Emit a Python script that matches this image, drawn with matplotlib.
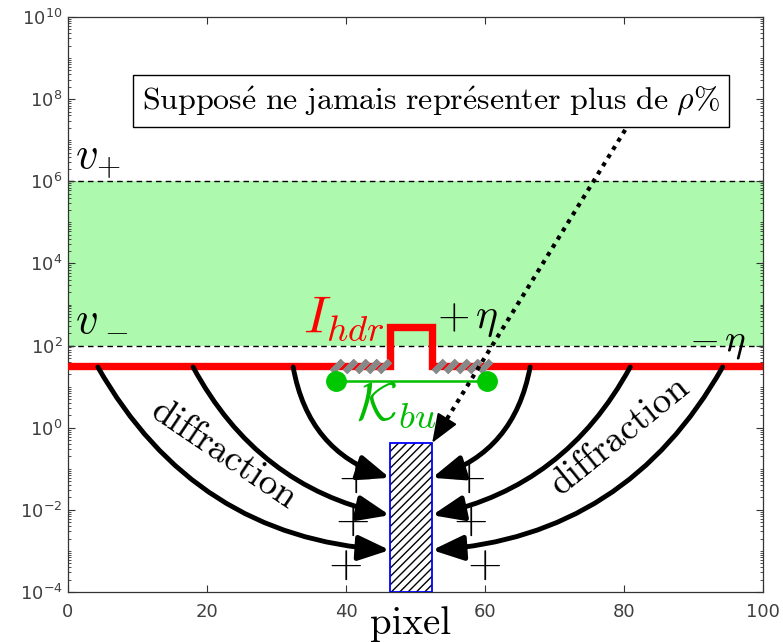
import numpy as np
import matplotlib
matplotlib.use("Agg")
import matplotlib.pyplot as plt
from matplotlib.patches import Rectangle, FancyArrowPatch
from matplotlib.ticker import FixedLocator, LogLocator, LogFormatterSciNotation, NullFormatter

plt.rcParams['font.family'] = ['DejaVu Sans']
plt.rcParams['mathtext.fontset'] = 'dejavusans'

# ---------------- data ----------------
x_ticks = [0, 20, 40, 60, 80, 100]
y_ticks = [1e-4, 1e-2, 1e0, 1e2, 1e4, 1e6, 1e8, 1e10]
band_low, band_high = 1e2, 1e6
signal_x = [0, 46.3, 46.3, 52.4, 52.4, 100]
signal_y = [32, 32, 290, 290, 32, 32]
hatch_x = [38.7, 40.6, 42.3, 43.9, 45.5, 53.4, 55.1, 56.8, 58.4, 60.0]
hatch_y = 32
kbu_x = [38.6, 60.3]
kbu_y = [14, 14]
pixel_x = [46.3, 52.4]
pixel_y = [1e-4, 0.43]
arrow_start_left = [4.3, 18.0, 32.4]
arrow_start_right = [94.2, 80.9, 66.5]
arrow_start_y = 30
arrow_end_y = [10**-2.98, 10**-2.13, 10**-1.22]
arrow_rad = [0.27, 0.23, 0.3]
plus_left_x = [41.3, 40.9, 39.9]
plus_right_x = [57.6, 57.9, 59.9]
plus_y = [10**-1.2, 10**-2.25, 10**-3.32]
pointer_start = (80.9, 10**7.45)
pointer_end = (52.4, 10**-0.37)
box_text = r"$\mathrm{Suppos\acute{e}\ ne\ jamais\ repr\acute{e}senter\ plus\ de\ }\rho\%$"

# ---------------- figure ----------------
fig = plt.figure(figsize=(7.83, 6.42), dpi=100)
ax = fig.add_axes([0.0868, 0.0779, 0.8876, 0.8956])
ax.set_xlim(0, 100)
ax.set_yscale('log')
ax.set_ylim(1e-4, 1e10)

ax.xaxis.set_major_locator(FixedLocator(x_ticks))
ax.yaxis.set_major_locator(FixedLocator(y_ticks))
ax.yaxis.set_major_formatter(LogFormatterSciNotation())
ax.yaxis.set_minor_locator(LogLocator(base=10, subs=np.arange(1, 10), numticks=100))
ax.yaxis.set_minor_formatter(NullFormatter())
ax.tick_params(which='both', direction='in', top=True, right=True,
               color='#333333', labelcolor='#404040', labelsize=13)
ax.tick_params(which='major', length=5, width=0.8)
ax.tick_params(which='minor', length=2.5, width=0.6)
ax.tick_params(axis='x', pad=8)
ax.tick_params(axis='y', pad=4)
for s in ax.spines.values():
    s.set_color('#333333')
    s.set_linewidth(0.9)

# band
ax.axhspan(band_low, band_high, color='#adf9ad', lw=0, zorder=0)
for lvl in (band_low, band_high):
    ax.axhline(lvl, color='k', ls=(0, (4, 3)), lw=1, zorder=1)

# red signal
ax.plot(signal_x, signal_y, color='#ff0000', lw=5.3, solid_joinstyle='miter', zorder=3)
# gray hatch
ax.plot(hatch_x, [hatch_y] * len(hatch_x), ls='none', marker=(2, 2, -45),
        ms=11, mew=4.5, color='#888888', zorder=4)
# K_bu
ax.plot(kbu_x, kbu_y, color='#00c000', lw=1.8, zorder=4)
ax.plot(kbu_x, kbu_y, 'o', ms=14, color='#00c800', zorder=5)

# pixel
ax.add_patch(Rectangle((pixel_x[0], pixel_y[0]), pixel_x[1] - pixel_x[0], pixel_y[1] - pixel_y[0],
                       fc='white', ec='black', lw=0, hatch='////', zorder=3))
ax.add_patch(Rectangle((pixel_x[0], pixel_y[0]), pixel_x[1] - pixel_x[0], pixel_y[1] - pixel_y[0],
                       fc='none', ec='blue', lw=1.3, zorder=3.5))

# diffraction arrows
astyle = '-|>,head_length=0.95,head_width=0.38'
for sx, ey, r in zip(arrow_start_left, arrow_end_y, arrow_rad):
    ax.add_patch(FancyArrowPatch((sx, arrow_start_y), (pixel_x[0], ey), arrowstyle=astyle,
                                 connectionstyle=f'arc3,rad={r}', mutation_scale=20,
                                 lw=3.5, color='k', shrinkA=0, shrinkB=0, zorder=6))
for sx, ey, r in zip(arrow_start_right, arrow_end_y, arrow_rad):
    ax.add_patch(FancyArrowPatch((sx, arrow_start_y), (pixel_x[1], ey), arrowstyle=astyle,
                                 connectionstyle=f'arc3,rad={-r}', mutation_scale=20,
                                 lw=3.5, color='k', shrinkA=0, shrinkB=0, zorder=6))

# dotted pointer
t = 0.93
bx = pointer_start[0] + t * (pointer_end[0] - pointer_start[0])
by = 10 ** (np.log10(pointer_start[1]) + t * (np.log10(pointer_end[1]) - np.log10(pointer_start[1])))
ax.plot([pointer_start[0], bx], [pointer_start[1], by], color='k', lw=3, ls=(0, (1, 1.3)), zorder=7)
ax.add_patch(FancyArrowPatch((bx, by), pointer_end, arrowstyle='-|>,head_length=0.9,head_width=0.35',
                             mutation_scale=20, lw=1.5, color='k', shrinkA=0, shrinkB=0, zorder=7))

# texts
ax.text(52.3, 10**7.95, box_text, fontsize=23, math_fontfamily='cm', ha='center', va='center',
        bbox=dict(boxstyle='square,pad=0.28', fc='white', ec='k', lw=1), zorder=8)
ax.text(1.0, 10**6.32, '$v_{+}$', fontsize=32, math_fontfamily='cm', ha='left', va='baseline', zorder=9)
ax.text(1.0, 10**2.31, '$v$', fontsize=32, math_fontfamily='cm', ha='left', va='baseline', zorder=9)
ax.text(6.9, 10**2.36, '$-$', fontsize=23, math_fontfamily='cm', ha='center', va='center', zorder=9)
ax.text(45.6, 10**2.67, r'$I_{hdr}$', color='red', fontsize=38, math_fontfamily='cm', ha='right', va='center')
ax.text(53.1, 10**2.67, r'$+\,\eta$', fontsize=30, math_fontfamily='cm', ha='left', va='center')
ax.text(93.5, 10**2.09, r'$-\,\eta$', fontsize=28, math_fontfamily='cm', ha='center', va='center')
ax.text(47.3, 10**0.55, r'$\mathcal{K}_{bu}$', color='#00bb00', fontsize=38, math_fontfamily='cm',
        ha='center', va='center')
ax.text(22.4, 10**-0.67, 'diffraction', rotation=-34, fontsize=27, family='cmr10',
        ha='center', va='center', rotation_mode='anchor', zorder=6)
ax.text(79.4, 10**-0.20, 'diffraction', rotation=39, fontsize=27, family='cmr10',
        ha='center', va='center', rotation_mode='anchor', zorder=6)
for px, py in zip(plus_left_x + plus_right_x, plus_y + plus_y):
    ax.text(px, py, r'$+$', fontsize=32, math_fontfamily='cm', ha='center', va='center')
ax.text(49.35, -0.055, 'pixel', transform=ax.get_xaxis_transform(), fontsize=28,
        family='cmr10', ha='center', va='center', clip_on=False)

fig.savefig('out.png', dpi=100)
